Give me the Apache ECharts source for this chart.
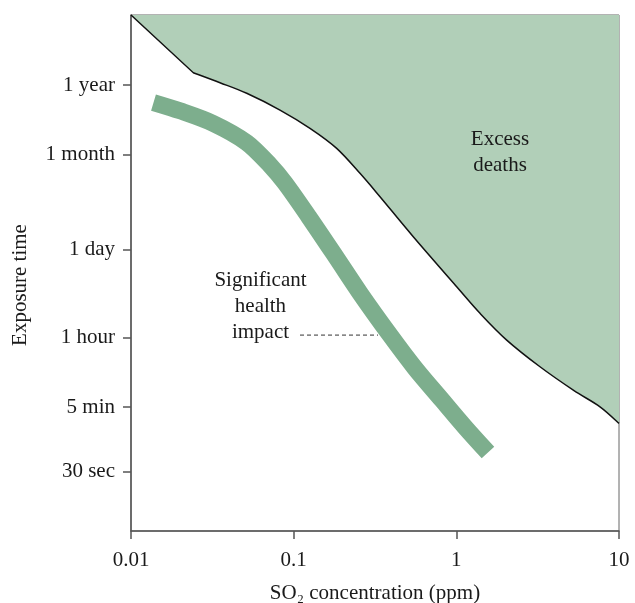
<!DOCTYPE html>
<html>
<head>
<meta charset="utf-8">
<script src="https://cdn.jsdelivr.net/npm/echarts@6/dist/echarts.min.js"></script>
<style>html,body{margin:0;padding:0;background:#fff}#c{width:635px;height:603px}</style>
</head>
<body>
<div id="c"></div>
<script>
// Y values are log10(exposure time in minutes)
var yTickLabels = ['30 sec', '5 min', '1 hour', '1 day', '1 month', '1 year'];
var yTickMinutes = [0.5, 5, 60, 1440, 43800, 525600];

// Excess-deaths boundary: straight part then curved part [ppm, log10(min)]
var boundaryStraight = [[0.01, 6.814], [0.02415, 5.914]];
var boundaryCurve = [
  [0.02415, 5.914], [0.03524, 5.758], [0.05144, 5.593], [0.0824, 5.332], [0.1260, 5.047],
  [0.1838, 4.735], [0.2557, 4.345], [0.3394, 3.980], [0.5436, 3.356], [1.005, 2.576],
  [1.398, 2.162], [2.040, 1.745], [3.268, 1.329], [5.236, 0.965], [7.642, 0.705], [10, 0.446]
];
// Significant health impact band centre line
var healthBand = [
  [0.01375, 5.449], [0.02000, 5.320], [0.03192, 5.125], [0.05144, 4.825], [0.07153, 4.474],
  [0.08845, 4.194], [0.1242, 3.663], [0.1820, 3.040], [0.2557, 2.478], [0.3910, 1.823],
  [0.5569, 1.308], [0.8164, 0.809], [1.130, 0.388], [1.565, -0.009]
];
var leaderLine = [[0.1094, 1.823], [0.330, 1.823]];
var annotations = [
  {name: 'Excess\ndeaths', value: [1.855, 4.677]},
  {name: 'Significant\nhealth\nimpact', value: [0.0625, 2.275]}
];

var Y_MIN = -1.232, Y_MAX = 6.814, X_MIN = 0.01, X_MAX = 10;
var yTickValues = yTickMinutes.map(function (m) { return Math.log10(m); });
var FONT = "'Liberation Serif', 'DejaVu Serif', serif";
var TXT = '#1a1a1a';

function f(n) { return n.toFixed(2); }
// Build boundary path (straight segment + Catmull-Rom curve) in pixel space via api.coord
function boundaryPaths(api) {
  var s = boundaryStraight.map(function (d) { return api.coord(d); });
  var c = boundaryCurve.map(function (d) { return api.coord(d); });
  var d = 'M' + f(s[0][0]) + ' ' + f(s[0][1]);
  for (var i = 1; i < s.length; i++) d += ' L' + f(s[i][0]) + ' ' + f(s[i][1]);
  for (var j = 0; j < c.length - 1; j++) {
    var p0 = c[Math.max(j - 1, 0)], p1 = c[j], p2 = c[j + 1], p3 = c[Math.min(j + 2, c.length - 1)];
    var c1x = p1[0] + (p2[0] - p0[0]) / 6, c1y = p1[1] + (p2[1] - p0[1]) / 6;
    var c2x = p2[0] - (p3[0] - p1[0]) / 6, c2y = p2[1] - (p3[1] - p1[1]) / 6;
    d += ' C' + f(c1x) + ' ' + f(c1y) + ' ' + f(c2x) + ' ' + f(c2y) + ' ' + f(p2[0]) + ' ' + f(p2[1]);
  }
  var tr = api.coord([X_MAX, Y_MAX]);
  var fill = d + ' L' + f(tr[0]) + ' ' + f(tr[1]) + ' Z';
  return {line: d, fill: fill};
}

var chart = echarts.init(document.getElementById('c'), null, {renderer: 'canvas'});
chart.setOption({
  animation: false,
  backgroundColor: '#fff',
  grid: {left: 131, right: 16, top: 15, bottom: 72, outerBoundsMode: 'none', containLabel: false,
    show: true, borderColor: '#666', borderWidth: 1, backgroundColor: 'transparent'},
  xAxis: {
    type: 'log', logBase: 10, min: X_MIN, max: X_MAX,
    name: 'SO\u2082 concentration (ppm)', nameLocation: 'middle', nameGap: 52,
    nameTextStyle: {fontFamily: FONT, fontSize: 21, color: TXT},
    axisLine: {onZero: false, lineStyle: {color: '#555', width: 1.5}},
    axisTick: {show: true, length: 8, lineStyle: {color: '#555', width: 1.5}},
    minorTick: {show: false}, splitLine: {show: false}, minorSplitLine: {show: false},
    axisLabel: {fontFamily: FONT, fontSize: 21, color: TXT, margin: 19,
      formatter: function (v) { return String(v); }}
  },
  yAxis: {
    type: 'value', min: Y_MIN, max: Y_MAX,
    name: 'Exposure time', nameLocation: 'middle', nameGap: 100, nameRotate: 90,
    nameTextStyle: {fontFamily: FONT, fontSize: 21, color: TXT, padding: [0, 24, 0, 0]},
    axisLine: {show: true, onZero: false, lineStyle: {color: '#555', width: 1.5}},
    axisTick: {show: true, length: 8, customValues: yTickValues, lineStyle: {color: '#555', width: 1.5}},
    splitLine: {show: false},
    axisLabel: {fontFamily: FONT, fontSize: 21, color: TXT, margin: 16, customValues: yTickValues,
      formatter: function (v) {
        var best = 0, d = Infinity;
        for (var i = 0; i < yTickValues.length; i++) {
          var dd = Math.abs(yTickValues[i] - v);
          if (dd < d) { d = dd; best = i; }
        }
        return yTickLabels[best];
      }}
  },
  series: [
    {type: 'custom', data: [[X_MIN, Y_MAX]], z: 1, silent: true,
      renderItem: function (params, api) {
        var p = boundaryPaths(api);
        return {type: 'group', children: [
          {type: 'path', shape: {pathData: p.fill}, style: {fill: '#b1cfb8', stroke: null}},
          {type: 'path', shape: {pathData: p.line}, style: {fill: null, stroke: '#111', lineWidth: 1.5}}
        ]};
      }},
    {type: 'line', data: leaderLine, symbol: 'none', z: 2,
      lineStyle: {color: '#333', width: 1, type: [4, 3]}},
    {type: 'line', data: healthBand, smooth: 0.3, symbol: 'none', z: 3,
      lineStyle: {color: '#7dae8d', width: 17, cap: 'butt'}},
    {type: 'scatter', data: annotations, symbolSize: 0, z: 4, silent: true,
      itemStyle: {color: '#1a1a1a', opacity: 1},
      label: {show: true, position: 'inside', formatter: function (p) { return p.name; },
        fontFamily: FONT, fontSize: 21, lineHeight: 26, color: TXT, opacity: 1,
        textBorderWidth: 0, textBorderColor: 'transparent',
        align: 'center', verticalAlign: 'middle'}}
  ]
});
</script>
</body>
</html>
